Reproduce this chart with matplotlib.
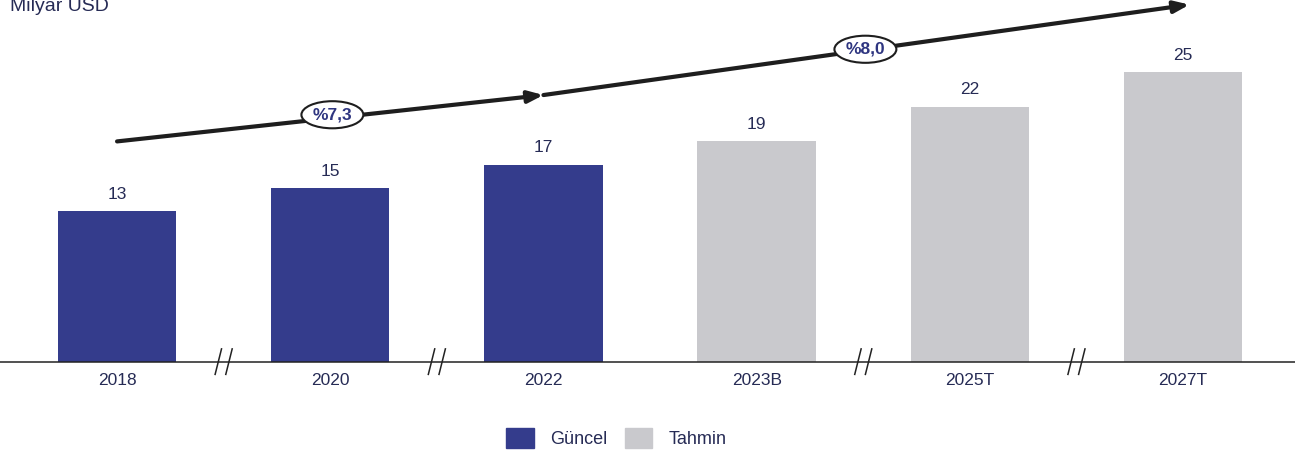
import matplotlib.pyplot as plt
from matplotlib.patches import Patch

plt.rcParams['font.family'] = ['Liberation Sans', 'DejaVu Sans']

# veriler
yillar = ['2018', '2020', '2022', '2023B', '2025T', '2027T']
degerler = [13, 15, 17, 19, 22, 25]
tur = ['Güncel', 'Güncel', 'Güncel', 'Tahmin', 'Tahmin', 'Tahmin']
buyume = ['%7,3', '%8,0']

renkler = {'Güncel': '#343c8c', 'Tahmin': '#c9c9cd'}
yazi_renk = '#262b55'

fig = plt.figure(figsize=(12.95, 4.59), dpi=100)
ax = fig.add_axes([0, 0, 1, 1])
ax.set_xlim(-0.549, 5.525)
ax.set_ylim(-8.4, 31.2)
ax.axis('off')

x = list(range(len(yillar)))
ax.bar(x, degerler, width=0.555, color=[renkler[t] for t in tur], zorder=2)

for i, v in enumerate(degerler):
    ax.text(i, v + 0.8, str(v), ha='center', va='bottom', fontsize=12.5, color=yazi_renk)
    ax.text(i, -1.0, yillar[i], ha='center', va='top', fontsize=12.5, color=yazi_renk)

# taban çizgisi
ax.plot([-0.6, 5.6], [0, 0], color='#222222', lw=1.1, zorder=3)

# kesik işaretleri
for bx in [0.5, 1.5, 3.5, 4.5]:
    for dx in (-0.025, 0.025):
        ax.plot([bx + dx - 0.015, bx + dx + 0.015], [-1.1, 1.1], color='#222222', lw=1.1, zorder=4)

# büyüme okları
ok = dict(arrowstyle='-|>,head_length=0.9,head_width=0.35', color='#1e1e1e', lw=3, shrinkA=0, shrinkB=0)
ax.annotate('', xy=(2.0, 23.0), xytext=(0.0, 19.0), arrowprops=ok, zorder=5)
ax.annotate('', xy=(5.03, 30.8), xytext=(2.0, 23.0), arrowprops=ok, zorder=5)

etiket_yer = [(1.01, 21.3), (3.51, 26.95)]
for (ex, ey), b in zip(etiket_yer, buyume):
    ax.text(ex, ey, b, ha='center', va='center', fontsize=12.5, fontweight='bold', color='#2e3580',
            bbox=dict(boxstyle='ellipse,pad=0.12', fc='white', ec='#1e1e1e', lw=1.5), zorder=6)

fig.text(0.008, 0.985, 'Milyar USD', ha='left', va='center', fontsize=14, color=yazi_renk)

handles = [Patch(color=renkler['Güncel'], label='Güncel'), Patch(color=renkler['Tahmin'], label='Tahmin')]
fig.legend(handles=handles, loc='center', bbox_to_anchor=(0.476, 0.045), ncol=2, frameon=False,
           fontsize=13, handlelength=1.5, handleheight=1.3, columnspacing=1.0, handletextpad=0.9,
           labelcolor=yazi_renk)

fig.savefig('out.png', dpi=100)
